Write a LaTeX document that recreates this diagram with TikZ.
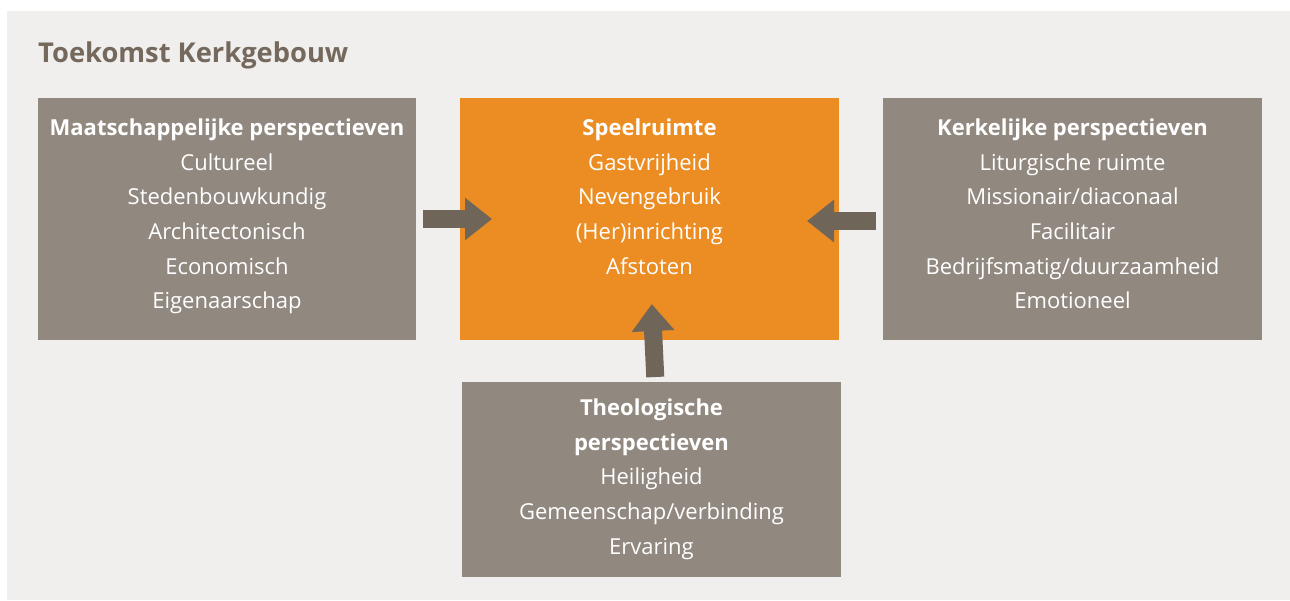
\documentclass[tikz,border=0pt]{standalone}
\usepackage{fontspec}
\setmainfont{Open Sans}
\usetikzlibrary{arrows.meta,calc}
\definecolor{bgpanel}{HTML}{F0EFED}
\definecolor{boxgrey}{HTML}{918880}
\definecolor{boxorange}{HTML}{EC8D23}
\definecolor{arrowbrown}{HTML}{6F6659}
\definecolor{titlebrown}{HTML}{74695C}
\begin{document}
\begin{tikzpicture}[x=1pt,y=-1pt,
  panelbox/.style={draw=none,inner sep=0pt,outer sep=0pt,anchor=north west},
  greybox/.style={panelbox,fill=boxgrey},
  orangebox/.style={panelbox,fill=boxorange},
  boxtext/.style={anchor=north,align=center,text=white,font=\fontsize{22}{34.7}\selectfont,inner sep=0pt},
  blockarrow/.style={draw=arrowbrown,line width=18pt,-{Triangle[width=41pt,length=27pt]}},
  ]
\useasboundingbox (0,0) rectangle (1290,600);
\fill[white] (0,0) rectangle (1290,600);
\fill[bgpanel] (7,11) rectangle (1290,600);
\node[anchor=base west,inner sep=0pt,text=titlebrown,font=\fontsize{27.3}{30}\selectfont\bfseries] (title) at (38,62) {Toekomst Kerkgebouw};
\node[greybox,minimum width=378pt,minimum height=242pt] (L) at (38,98) {};
\node[orangebox,minimum width=379pt,minimum height=242pt] (C) at (460,98) {};
\node[greybox,minimum width=379pt,minimum height=242pt] (R) at (883,98) {};
\node[greybox,minimum width=379pt,minimum height=195pt] (B) at (462,382) {};
\node[boxtext] (Lt) at ([yshift=-20.5pt]L.north) {\textbf{Maatschappelijke perspectieven}\\Cultureel\\Stedenbouwkundig\\Architectonisch\\Economisch\\Eigenaarschap};
\node[boxtext] (Ct) at ([yshift=-20.5pt]C.north) {\textbf{Speelruimte}\\Gastvrijheid\\Nevengebruik\\(Her)inrichting\\Afstoten};
\node[boxtext] (Rt) at ([yshift=-20.5pt]R.north) {\textbf{Kerkelijke perspectieven}\\Liturgische ruimte\\Missionair/diaconaal\\Facilitair\\Bedrijfsmatig/duurzaamheid\\Emotioneel};
\node[boxtext] (Bt) at ([yshift=-16.5pt]B.north) {\textbf{Theologische}\\\textbf{perspectieven}\\Heiligheid\\Gemeenschap/verbinding\\Ervaring};
\draw[blockarrow,shorten <=7pt,shorten >=-32pt] (L.east) -- (C.west);
\draw[blockarrow,shorten <=7pt,shorten >=-32pt] ([yshift=-2pt]R.west) -- ([yshift=-2pt]C.east);
\draw[blockarrow,shorten <=5pt,shorten >=-36pt] ([xshift=4pt]B.north) -- ([xshift=4pt]C.south);
\end{tikzpicture}
\end{document}
